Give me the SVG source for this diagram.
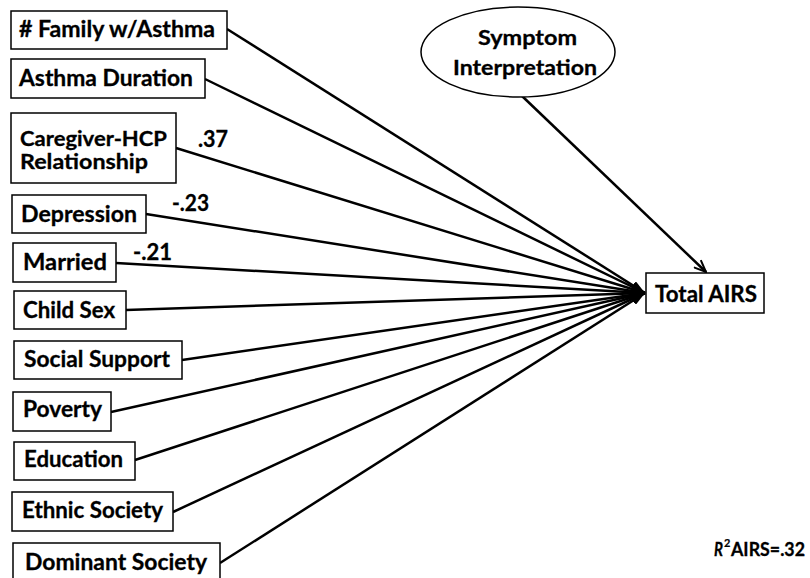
<svg xmlns="http://www.w3.org/2000/svg" width="810" height="578" viewBox="0 0 810 578">
<defs>
<marker id="ah" viewBox="0 0 14 10" refX="14" refY="5" markerWidth="14" markerHeight="10" markerUnits="userSpaceOnUse" orient="auto">
<path d="M0,0 L14,5 L0,10 Z" fill="#000"/>
</marker>
<marker id="oh" viewBox="0 0 14 12" refX="13" refY="6" markerWidth="14" markerHeight="12" markerUnits="userSpaceOnUse" orient="auto">
<path d="M1,1 L13,6 L1,11" fill="none" stroke="#000" stroke-width="2"/>
</marker>
<style>
.b{fill:#fff;stroke:#000;stroke-width:1.5}
.t{font-family:Lato,"Open Sans","Liberation Sans",sans-serif;font-weight:bold;font-size:22px;fill:#000;stroke:#000;stroke-width:0.3}
.s{font-size:20px}
.c{stroke:#000;stroke-width:2.5;fill:none}
</style>
</defs>
<rect width="810" height="578" fill="#fff"/>
<g id="connectors">
<line class="c" x1="227" y1="29" x2="645" y2="293" marker-end="url(#ah)"/>
<line class="c" x1="205" y1="79" x2="645" y2="293" marker-end="url(#ah)"/>
<line class="c" x1="176" y1="148" x2="645" y2="293" marker-end="url(#ah)"/>
<line class="c" x1="146" y1="214" x2="645" y2="293" marker-end="url(#ah)"/>
<line class="c" x1="116" y1="263" x2="645" y2="293" marker-end="url(#ah)"/>
<line class="c" x1="126" y1="310" x2="645" y2="293" marker-end="url(#ah)"/>
<line class="c" x1="182" y1="360" x2="645" y2="293" marker-end="url(#ah)"/>
<line class="c" x1="111" y1="412" x2="645" y2="293" marker-end="url(#ah)"/>
<line class="c" x1="135" y1="460" x2="645" y2="293" marker-end="url(#ah)"/>
<line class="c" x1="173" y1="512" x2="645" y2="293" marker-end="url(#ah)"/>
<line class="c" x1="220" y1="563" x2="645" y2="293" marker-end="url(#ah)"/>
<line class="c" x1="522" y1="96" x2="706" y2="272" marker-end="url(#oh)"/>
<text class="t" x="198" y="147" textLength="30" lengthAdjust="spacingAndGlyphs">.37</text>
<text class="t" x="172" y="211" textLength="37" lengthAdjust="spacingAndGlyphs">-.23</text>
<text class="t" x="133" y="260" textLength="39" lengthAdjust="spacingAndGlyphs">-.21</text>
</g>
<g id="family"><rect class="b" x="11" y="11" width="216" height="38"/><text class="t" x="19" y="37" textLength="196" lengthAdjust="spacingAndGlyphs"># Family w/Asthma</text></g>
<g id="duration"><rect class="b" x="11" y="59" width="194" height="39"/><text class="t" x="19" y="86" textLength="174" lengthAdjust="spacingAndGlyphs">Asthma Duration</text></g>
<g id="caregiver"><rect class="b" x="11" y="113" width="165" height="70"/><text class="t s" x="20" y="146" textLength="147" lengthAdjust="spacingAndGlyphs">Caregiver-HCP</text><text class="t s" x="20" y="169" textLength="128" lengthAdjust="spacingAndGlyphs">Relationship</text></g>
<g id="depression"><rect class="b" x="12" y="195" width="134" height="38"/><text class="t" x="21" y="222" textLength="116" lengthAdjust="spacingAndGlyphs">Depression</text></g>
<g id="married"><rect class="b" x="13" y="243" width="103" height="39"/><text class="t" x="23" y="270" textLength="84" lengthAdjust="spacingAndGlyphs">Married</text></g>
<g id="childsex"><rect class="b" x="14" y="291" width="112" height="38"/><text class="t" x="23" y="318" textLength="92" lengthAdjust="spacingAndGlyphs">Child Sex</text></g>
<g id="social"><rect class="b" x="14" y="341" width="168" height="38"/><text class="t" x="24" y="367" textLength="146" lengthAdjust="spacingAndGlyphs">Social Support</text></g>
<g id="poverty"><rect class="b" x="13" y="392" width="98" height="39"/><text class="t" x="23" y="417" textLength="79" lengthAdjust="spacingAndGlyphs">Poverty</text></g>
<g id="education"><rect class="b" x="14" y="442" width="121" height="38"/><text class="t" x="24" y="467" textLength="99" lengthAdjust="spacingAndGlyphs">Education</text></g>
<g id="ethnic"><rect class="b" x="12" y="492" width="161" height="39"/><text class="t" x="22" y="518" textLength="141" lengthAdjust="spacingAndGlyphs">Ethnic Society</text></g>
<g id="dominant"><rect class="b" x="13" y="543" width="207" height="40"/><text class="t" x="25" y="570" textLength="182" lengthAdjust="spacingAndGlyphs">Dominant Society</text></g>
<g id="symptom"><ellipse class="b" cx="518" cy="52" rx="97" ry="45" stroke-width="2"/><text class="t s" x="478" y="45" textLength="99" lengthAdjust="spacingAndGlyphs">Symptom</text><text class="t s" x="453" y="75" textLength="144" lengthAdjust="spacingAndGlyphs">Interpretation</text></g>
<g id="total"><rect class="b" x="646" y="273" width="118" height="40"/><text class="t" x="655" y="302" textLength="102" lengthAdjust="spacingAndGlyphs">Total AIRS</text></g>
<g id="r2">
<text class="t" x="714" y="556" style="font-style:italic;font-size:18px" textLength="9" lengthAdjust="spacingAndGlyphs">R</text>
<text class="t" x="724" y="547" style="font-size:11px;stroke-width:0.2">2</text>
<text class="t" x="731" y="556" style="font-size:18px" textLength="74" lengthAdjust="spacingAndGlyphs">AIRS=.32</text>
</g>
</svg>
